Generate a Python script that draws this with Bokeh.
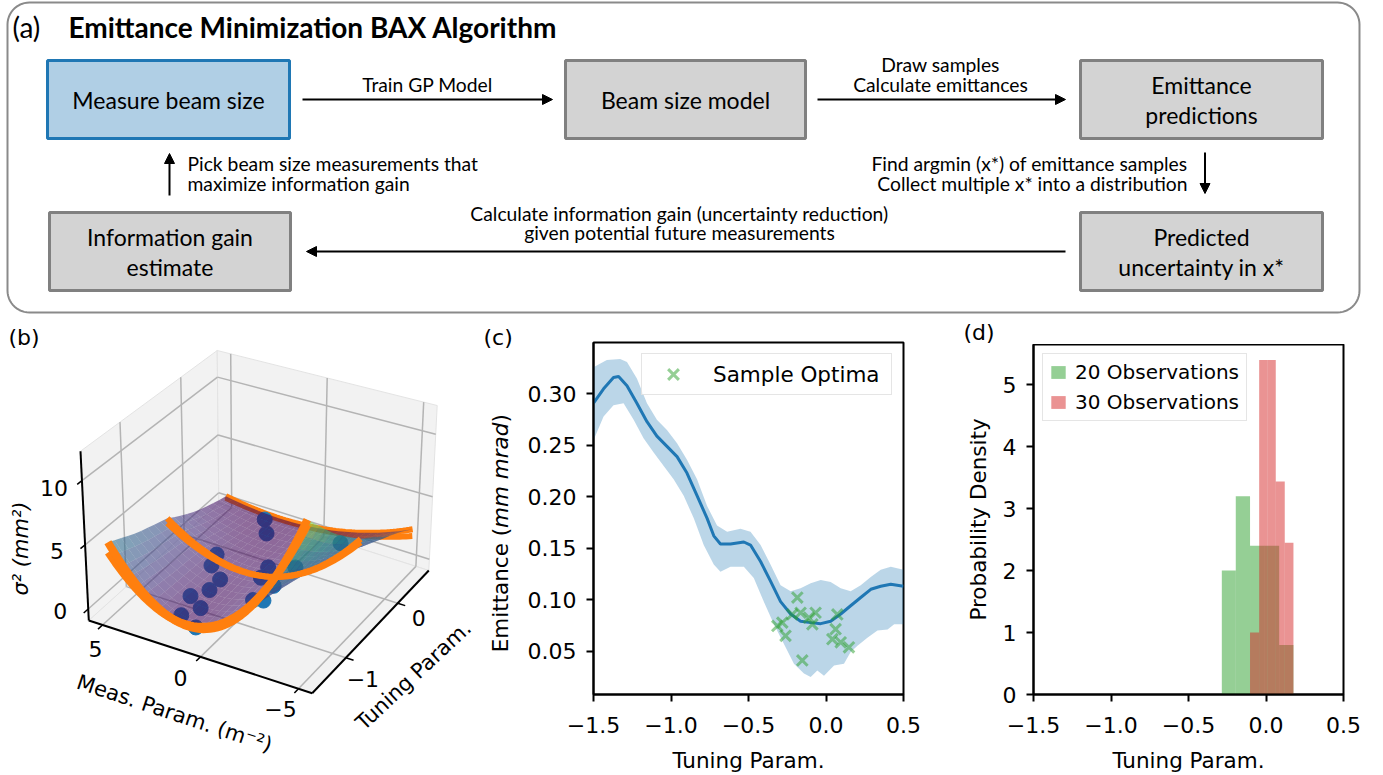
import numpy as np
from bokeh.plotting import figure
from bokeh.layouts import column, row
from bokeh.models import (Range1d, Arrow, NormalHead, FixedTicker, Legend,
                          LegendItem, CustomJSTickFormatter)
from bokeh.core.properties import value
from bokeh.embed import file_html
from bokeh.resources import INLINE
from bokeh.palettes import Viridis256

# ======================= DATA =======================
# ---- panel (a): flow chart texts
box_labels = [["Measure beam size"], ["Beam size model"], ["Emittance", "predictions"],
              ["Information gain", "estimate"], ["Predicted", "uncertainty in x*"]]
arrow_labels = [["Train GP Model"],
                ["Draw samples", "Calculate emittances"],
                ["Find argmin (x*) of emittance samples", "Collect multiple x* into a distribution"],
                ["Calculate information gain (uncertainty reduction)", "given potential future measurements"],
                ["Pick beam size measurements that", "maximize information gain"]]

# ---- panel (b): beam-size model  sigma^2 = A (k - k0)^2 + C  along tuning param
surf_t = [-1.5, -1.0, -0.5, 0.0, 0.5]
surf_A = [0.29, 0.21, 0.147, 0.09, 0.05]
surf_k0 = [1.0, 1.0, 0.96, 1.4, 2.0]
surf_C = [0.3, 0.4, 0.5, 0.25, 0.05]
# orange model slices
curve_t = [-1.5, -1.5, -0.5, -0.5, 0.5, 0.5]
curve_A = [0.29, 0.26, 0.147, 0.135, 0.05, 0.04]
curve_k0 = [1.0, 1.2, 0.96, 1.1, 2.0, 2.0]
curve_C = [0.3, 0.4, 0.5, 0.45, 0.05, 0.0]
# beam size measurements (meas. param, tuning param, sigma^2)
obs_k = [1.7, 0.7, 2.0, 1.25, 1.6, 1.6, 2.4, 2.6, 2.6, 1.9, 0.25, 0.05, -1.1, -0.8, -1.9, -1.1, -1.9]
obs_t = [-1.39, -1.48, -1.12, -1.2, -0.92, -0.73, -0.61, -0.45, 0.4, 0.2, -0.33, -0.53, -0.7, -0.97, -1.17, -0.3, 0.25]
obs_s2 = [0.4, 0.3, 0.65, 0.4, 0.5, 0.55, 0.78, 0.9, 0.15, 0.2, 0.5, 0.6, 1.2, 1.05, 2.3, 1.0, 1.0]
b_meas_ticks = [5, 0, -5]
b_tune_ticks = [-1, 0]
b_z_ticks = [0, 5, 10]

# ---- panel (c): emittance prediction
em_x = [-1.5, -1.435, -1.371, -1.338, -1.284, -1.22, -1.155, -1.091, -1.026, -0.961, -0.897,
        -0.832, -0.767, -0.724, -0.681, -0.616, -0.530, -0.487, -0.422, -0.358, -0.293, -0.228,
        -0.164, -0.099, -0.034, 0.030, 0.095, 0.159, 0.224, 0.289, 0.353, 0.418, 0.5]
em_mean = [0.291, 0.305, 0.316, 0.317, 0.308, 0.291, 0.273, 0.259, 0.249, 0.239, 0.223,
           0.201, 0.179, 0.162, 0.154, 0.154, 0.156, 0.153, 0.137, 0.118, 0.098, 0.086,
           0.079, 0.0776, 0.0766, 0.079, 0.086, 0.094, 0.102, 0.110, 0.113, 0.115, 0.113]
up_x = [-1.5, -1.414, -1.328, -1.284, -1.22, -1.155, -1.091, -1.026, -0.961, -0.897, -0.832,
        -0.767, -0.703, -0.638, -0.552, -0.487, -0.422, -0.358, -0.293, -0.228, -0.164, -0.099,
        -0.034, 0.030, 0.095, 0.159, 0.224, 0.289, 0.353, 0.418, 0.5]
up_y = [0.326, 0.333, 0.334, 0.331, 0.315, 0.291, 0.275, 0.265, 0.252, 0.236, 0.217,
        0.191, 0.172, 0.166, 0.169, 0.166, 0.153, 0.134, 0.114, 0.108, 0.111, 0.116,
        0.119, 0.117, 0.111, 0.108, 0.114, 0.122, 0.129, 0.132, 0.129]
lo_x = [-1.5, -1.435, -1.371, -1.306, -1.241, -1.177, -1.112, -1.047, -0.983, -0.918, -0.853,
        -0.789, -0.724, -0.681, -0.616, -0.530, -0.466, -0.401, -0.336, -0.272, -0.207, -0.142,
        -0.099, -0.056, -0.013, 0.052, 0.116, 0.159, 0.203, 0.267, 0.332, 0.397, 0.440, 0.5]
lo_y = [0.255, 0.278, 0.289, 0.291, 0.275, 0.257, 0.243, 0.230, 0.217, 0.201, 0.179,
        0.153, 0.134, 0.127, 0.132, 0.132, 0.121, 0.098, 0.076, 0.057, 0.0375, 0.028,
        0.0247, 0.031, 0.026, 0.036, 0.0375, 0.049, 0.055, 0.063, 0.070, 0.071, 0.076, 0.076]
opt_x = [-0.185, -0.282, -0.261, -0.164, -0.110, -0.067, -0.088, 0.073, 0.062, 0.041, 0.095,
         0.148, -0.153, -0.314, -0.218]
opt_y = [0.102, 0.0776, 0.0648, 0.0872, 0.0824, 0.0872, 0.076, 0.0856, 0.0712, 0.0615, 0.0584,
         0.0536, 0.0408, 0.0744, 0.0856]

# ---- panel (d): histograms of optima
h20_edges = [-0.285, -0.195, -0.103, -0.012, 0.085, 0.177]
h20_dens = [2.0, 3.2, 2.4, 2.4, 0.8]
h30_edges = [-0.103, -0.044, 0.010, 0.063, 0.121, 0.177]
h30_dens = [1.0, 5.4, 5.4, 3.44, 2.45]
tune_ticks = [-1.5, -1.0, -0.5, 0.0, 0.5]

# ======================= STYLE =======================
FA = "Lato"
FD = "DejaVu Sans"
W, HA, HB = 1383, 318, 457


def no_align(p):
    try:
        p.frame_align = False
    except Exception:
        pass


def blank(width, height, xr, yr):
    p = figure(width=width, height=height, x_range=xr, y_range=yr, output_backend="svg",
               toolbar_location=None, min_border=0)
    p.axis.visible = False
    p.grid.visible = False
    p.outline_line_color = None
    p.background_fill_color = "white"
    p.border_fill_color = "white"
    no_align(p)
    return p


# ======================= PANEL (a) =======================
pa = blank(W, HA, Range1d(0, W), Range1d(HA, 0))


def rounded(x0, y0, x1, y1, r, n=14):
    xs, ys = [], []
    for cx, cy, a0 in [(x1 - r, y0 + r, -90), (x1 - r, y1 - r, 0), (x0 + r, y1 - r, 90), (x0 + r, y0 + r, 180)]:
        a = np.radians(np.linspace(a0, a0 + 90, n))
        xs += list(cx + r * np.cos(a))
        ys += list(cy + r * np.sin(a))
    return xs, ys


ox, oy = rounded(7, 2, 1359, 312, 22)
pa.patch(ox, oy, fill_color=None, line_color="#8a8a8a", line_width=2)

bl = [47, 565, 1080, 49, 1080]
br = [289, 805, 1322, 290, 1322]
bt = [60, 60, 60, 212, 212]
bb = [138, 138, 138, 290, 290]
fills = ["#b0cfe5", "#d3d3d3", "#d3d3d3", "#d3d3d3", "#d3d3d3"]
lines = ["#1f77b4", "#808080", "#808080", "#808080", "#808080"]
pa.quad(left=bl, right=br, top=bt, bottom=bb, fill_color=fills, line_color=lines, line_width=3)

BOX_FS = "23px"
for i, lab in enumerate(box_labels):
    cx = (bl[i] + br[i]) / 2
    cy = (bt[i] + bb[i]) / 2
    ys = [cy] if len(lab) == 1 else [cy - 15, cy + 15]
    pa.text(x=[cx] * len(lab), y=ys, text=lab, text_align="center", text_baseline="middle",
            text_font=value(FA), text_font_size=BOX_FS, text_color="black")

ARR_FS = "19.3px"
arrows = [(302, 99, 552, 99), (817, 99, 1065, 99), (1204.5, 152, 1204.5, 193),
          (1065, 251, 306, 251), (169, 195, 169, 153)]
for (x0, y0, x1, y1) in arrows:
    pa.add_layout(Arrow(x_start=x0, y_start=y0, x_end=x1, y_end=y1, line_width=2, line_color="black",
                        end=NormalHead(size=10, fill_color="black", line_color="black", line_width=1)))

lab_pos = [(427, [84], "center"), (940, [64, 84], "center"), (1187, [163, 183], "right"),
           (679, [213, 232], "center"), (187, [163, 183], "left")]
for (x, ys, al), lab in zip(lab_pos, arrow_labels):
    pa.text(x=[x] * len(lab), y=ys, text=lab, text_align=al, text_baseline="middle",
            text_font=value(FA), text_font_size=ARR_FS, text_color="black")

pa.text(x=[12], y=[26], text=["(a)"], text_align="left", text_baseline="middle",
        text_font=value(FA), text_font_size="28px", text_color="black")
pa.text(x=[68], y=[26], text=["Emittance Minimization BAX Algorithm"], text_align="left",
        text_baseline="middle", text_font=value(FA), text_font_size="28px",
        text_font_style="bold", text_color="black")

# ======================= PANEL (b) =======================
WB = 518
pb = blank(WB, HB, Range1d(0, WB), Range1d(775, 318))

CORNERS = {(0, 0, 0): (88.3, 620.0), (1, 0, 0): (311.7, 692.7), (1, 1, 0): (428.3, 570.0),
           (0, 1, 0): (218.3, 502.7), (0, 0, 1): (80.0, 450.7), (1, 0, 1): (313.0, 508.0),
           (1, 1, 1): (436.7, 405.0), (0, 1, 1): (216.7, 350.0)}
K_LIM = (5.7, -5.7)
T_LIM = (-1.65, 0.6)
Z_LIM = (-0.9, 12.3)


def puvw(u, v, w):
    u = np.asarray(u, float); v = np.asarray(v, float); w = np.asarray(w, float)
    x = 0.0; y = 0.0
    for (i, j, k), (cx, cy) in CORNERS.items():
        wt = (u if i else 1 - u) * (v if j else 1 - v) * (w if k else 1 - w)
        x = x + wt * cx
        y = y + wt * cy
    return x, y


def to_uvw(k, t, z):
    u = (K_LIM[0] - np.asarray(k, float)) / (K_LIM[0] - K_LIM[1])
    v = (np.asarray(t, float) - T_LIM[0]) / (T_LIM[1] - T_LIM[0])
    w = (np.asarray(z, float) - Z_LIM[0]) / (Z_LIM[1] - Z_LIM[0])
    return u, v, w


def proj(k, t, z):
    return puvw(*to_uvw(k, t, z))


pane_uvw = [([0, 0, 0, 0], [0, 1, 1, 0], [0, 0, 1, 1]),
            ([0, 1, 1, 0], [1, 1, 1, 1], [0, 0, 1, 1]),
            ([0, 1, 1, 0], [0, 0, 1, 1], [0, 0, 0, 0])]
for uu, vv, ww in pane_uvw:
    x, y = puvw(uu, vv, ww)
    pb.patch(list(x), list(y), fill_color="#f2f2f2", line_color="#e3e3e3", line_width=1)

GC = "#b4b4b4"
seg = np.array([0.0, 1.0])
for kt in b_meas_ticks:
    u = to_uvw(kt, 0, 0)[0]
    for uu, vv, ww in [(u + 0 * seg, seg, 0 * seg), (u + 0 * seg, 1 + 0 * seg, seg)]:
        x, y = puvw(uu, vv, ww)
        pb.line(list(x), list(y), line_color=GC, line_width=1.5)
for tt in b_tune_ticks:
    v = to_uvw(0, tt, 0)[1]
    for uu, vv, ww in [(seg, v + 0 * seg, 0 * seg), (0 * seg, v + 0 * seg, seg)]:
        x, y = puvw(uu, vv, ww)
        pb.line(list(x), list(y), line_color=GC, line_width=1.5)
for zt in b_z_ticks:
    w = to_uvw(0, 0, zt)[2]
    for uu, vv, ww in [(0 * seg, seg, w + 0 * seg), (seg, 1 + 0 * seg, w + 0 * seg)]:
        x, y = puvw(uu, vv, ww)
        pb.line(list(x), list(y), line_color=GC, line_width=1.5)

for uu, vv, ww in [(0 * seg, 0 * seg, seg), (seg, 0 * seg, 0 * seg), (1 + 0 * seg, seg, 0 * seg)]:
    x, y = puvw(uu, vv, ww)
    pb.line(list(x), list(y), line_color="black", line_width=2)
TL = 0.035
for kt in b_meas_ticks:
    u = to_uvw(kt, 0, 0)[0]
    x, y = puvw([u, u], [0, -TL], [0, 0])
    pb.line(list(x), list(y), line_color="black", line_width=1.5)
for tt in b_tune_ticks:
    v = to_uvw(0, tt, 0)[1]
    x, y = puvw([1, 1 + TL], [v, v], [0, 0])
    pb.line(list(x), list(y), line_color="black", line_width=1.5)
for zt in b_z_ticks:
    w = to_uvw(0, 0, zt)[2]
    x, y = puvw([0, 0], [0, -TL], [w, w])
    pb.line(list(x), list(y), line_color="black", line_width=1.5)

TFS = "22px"


def minus(s):
    return s.replace("-", "\u2212")


kx, ky = proj(b_meas_ticks, [T_LIM[0]] * 3, [Z_LIM[0]] * 3)
pb.text(x=list(kx + np.array([-7, -20, -18])), y=list(ky + np.array([24, 21, 20])),
        text=[minus(str(v)) for v in b_meas_ticks], text_align="center", text_baseline="middle",
        text_font=value(FD), text_font_size=TFS)
tx, ty = proj([K_LIM[1]] * 2, b_tune_ticks, [Z_LIM[0]] * 2)
pb.text(x=list(tx + np.array([17, 21])), y=list(ty + np.array([21, 15])),
        text=[minus(str(v)) for v in b_tune_ticks], text_align="center", text_baseline="middle",
        text_font=value(FD), text_font_size=TFS)
zx, zy = proj([K_LIM[0]] * 3, [T_LIM[0]] * 3, b_z_ticks)
pb.text(x=list(zx - 28), y=list(zy + np.array([2, 6, 7])), text=[str(v) for v in b_z_ticks],
        text_align="center", text_baseline="middle", text_font=value(FD), text_font_size=TFS)

pb.text(x=[20], y=[548], text=["σ² (mm²)"], angle=np.pi / 2, text_align="center",
        text_baseline="middle", text_font=value(FD), text_font_size="21px", text_font_style="italic")
pb.text(x=[174], y=[713], text=["Meas. Param. (m⁻²)"], angle=-0.32, text_align="center",
        text_baseline="middle", text_font=value(FD), text_font_size="21px")
pb.text(x=[413], y=[675], text=["Tuning Param."], angle=0.75, text_align="center",
        text_baseline="middle", text_font=value(FD), text_font_size="21px")
pb.text(x=[8], y=[337], text=["(b)"], text_align="left", text_baseline="middle",
        text_font=value(FD), text_font_size="22px")

km = np.linspace(-5, 5, 60)


def slice_xy(i):
    z = curve_A[i] * (km - curve_k0[i]) ** 2 + curve_C[i]
    return proj(km, np.full_like(km, curve_t[i]), z)


for i in [4, 5]:
    x, y = slice_xy(i)
    pb.line(list(x), list(y), line_color="#ff7f0e", line_width=6)

ox_, oy_ = proj(obs_k, obs_t, obs_s2)
pb.scatter(list(ox_), list(oy_), size=15, fill_color="#1f77b4", line_color="#1f77b4")

kg = np.linspace(-5, 5, 29)
tg = np.linspace(-1.5, 0.5, 19)
Ag = np.interp(tg, surf_t, surf_A)
Kg = np.interp(tg, surf_t, surf_k0)
Cg = np.interp(tg, surf_t, surf_C)
Z = Ag[None, :] * (kg[:, None] - Kg[None, :]) ** 2 + Cg[None, :]
quads = []
for i in range(len(kg) - 1):
    for j in range(len(tg) - 1):
        kk = [kg[i], kg[i + 1], kg[i + 1], kg[i]]
        tt = [tg[j], tg[j], tg[j + 1], tg[j + 1]]
        zz = [Z[i, j], Z[i + 1, j], Z[i + 1, j + 1], Z[i, j + 1]]
        u, v, w = to_uvw(np.mean(kk), np.mean(tt), np.mean(zz))
        far = v + (1 - u)
        x, y = proj(kk, tt, zz)
        zc = np.clip(np.mean(zz) / 12.0, 0, 1)
        quads.append((far, list(x), list(y), Viridis256[int(zc * 255)]))
quads.sort(key=lambda q: -q[0])
pb.patches(xs=[q[1] for q in quads], ys=[q[2] for q in quads], fill_color=[q[3] for q in quads],
           fill_alpha=0.58, line_color=None)

for i, lw in [(2, 6), (3, 6), (1, 8), (0, 8)]:
    x, y = slice_xy(i)
    pb.line(list(x), list(y), line_color="#ff7f0e", line_width=lw)

# texts of panel (c) that sit left of its frame
CYL_FS = "21.5px"
for txt, sty, yy in [("Emittance (", "normal", 651.8), ("mm mrad", "italic", 527.4), (")", "normal", 422.1)]:
    pb.text(x=[500], y=[yy], text=[txt], angle=np.pi / 2, text_align="left", text_baseline="middle",
            text_font=value(FD), text_font_size=CYL_FS, text_font_style=sty, text_color="black")
pb.text(x=[483], y=[337], text=["(c)"], text_align="left", text_baseline="middle",
        text_font=value(FD), text_font_size="22px", text_color="black")


# ======================= PANEL (c) =======================
def style_axes(p, yfmt, yticks):
    no_align(p)
    p.grid.visible = False
    p.background_fill_color = "white"
    p.border_fill_color = "white"
    p.outline_line_color = "black"
    p.outline_line_width = 2
    p.xaxis.ticker = FixedTicker(ticks=tune_ticks)
    p.yaxis.ticker = FixedTicker(ticks=yticks)
    p.xaxis.formatter = CustomJSTickFormatter(code="return tick.toFixed(1).replace('-', '\u2212')")
    p.yaxis.formatter = CustomJSTickFormatter(code="return tick.toFixed(%d)" % yfmt)
    for ax in (p.xaxis[0], p.yaxis[0]):
        ax.axis_line_width = 2
        ax.major_tick_line_width = 2
        ax.major_tick_out = 7
        ax.major_tick_in = 0
        ax.minor_tick_line_color = None
        ax.major_label_text_font = FD
        ax.major_label_text_font_size = "22px"
        ax.major_label_text_color = "black"
        ax.axis_label_text_font = FD
        ax.axis_label_text_font_size = "21.5px"
        ax.axis_label_text_font_style = "normal"
        ax.axis_label_text_color = "black"
    p.xaxis.major_label_standoff = 15
    p.xaxis.axis_label_standoff = 12
    p.yaxis.major_label_standoff = 10
    p.xaxis.axis_label = "Tuning Param."


pc = figure(width=930 - WB, height=HB, x_range=Range1d(-1.5, 0.5), y_range=Range1d(0.0077, 0.35),
            output_backend="svg", toolbar_location=None, min_border_left=593 - WB, min_border_right=27,
            min_border_top=24, min_border_bottom=77)
style_axes(pc, 2, [0.05, 0.10, 0.15, 0.20, 0.25, 0.30])
pc.patch(up_x + lo_x[::-1], up_y + lo_y[::-1], fill_color="#1f77b4", fill_alpha=0.3, line_color=None)
pc.line(em_x, em_mean, line_color="#1f77b4", line_width=3)
r_opt = pc.scatter(opt_x, opt_y, marker="x", size=15, line_color="#2ca02c", line_alpha=0.5, line_width=3)
leg_c = Legend(items=[LegendItem(label="Sample Optima", renderers=[r_opt])], location="top_right",
               margin=11, padding=1, glyph_width=60, glyph_height=38, label_standoff=10, label_width=177,
               label_text_font=FD, label_text_font_size="21.5px", label_text_color="black",
               border_line_color="#cccccc", border_line_width=1.5, background_fill_alpha=0.8)
pc.add_layout(leg_c)

# ======================= PANEL (d) =======================
SH = 26
strip = blank(453, SH, Range1d(930, 1383), Range1d(318 + SH, 318))
strip.text(x=[963], y=[331.5], text=["(d)"], text_align="left", text_baseline="middle",
           text_font=value(FD), text_font_size="22px", text_color="black")

pd = figure(width=453, height=HB - SH, x_range=Range1d(-1.5, 0.5), y_range=Range1d(0, 5.65),
            output_backend="svg", toolbar_location=None, min_border_left=103, min_border_right=40,
            min_border_top=0, min_border_bottom=77)
style_axes(pd, 0, [0, 1, 2, 3, 4, 5])
pd.yaxis.axis_label = "Probability Density"
pd.yaxis.axis_label_standoff = 9
r20 = pd.quad(left=h20_edges[:-1], right=h20_edges[1:], bottom=0, top=h20_dens,
              fill_color="#2ca02c", fill_alpha=0.5, line_color=None)
r30 = pd.quad(left=h30_edges[:-1], right=h30_edges[1:], bottom=0, top=h30_dens,
              fill_color="#d62728", fill_alpha=0.5, line_color=None)
leg_d = Legend(items=[LegendItem(label="20 Observations", renderers=[r20]),
                      LegendItem(label="30 Observations", renderers=[r30])],
               location="top_left", margin=9, padding=6, spacing=6, glyph_width=18, glyph_height=16,
               label_standoff=8, label_width=165, label_text_font=FD, label_text_font_size="20px",
               label_text_color="black", border_line_color="#cccccc", border_line_width=1.5,
               background_fill_alpha=0.8)
pd.add_layout(leg_d)

layout = column(pa, row(pb, pc, column(strip, pd)))
open("out.html", "w").write(file_html(layout, INLINE))
